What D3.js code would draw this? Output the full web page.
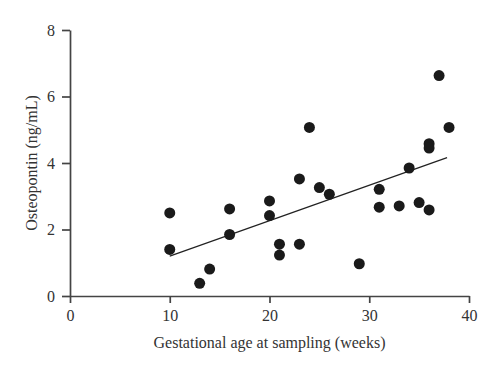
<!DOCTYPE html>
<html>
<head>
<meta charset="utf-8">
<script src="https://cdn.jsdelivr.net/npm/d3@7"></script>
<style>
  html, body { margin: 0; padding: 0; background: #fff; }
  svg { display: block; }
</style>
</head>
<body>
<svg id="chart" width="500" height="374"></svg>
<script>
// gestational age (weeks) and osteopontin (ng/mL)
const weeks = [10, 10, 13, 14, 16, 16, 20, 20, 21, 21, 23, 23, 24, 25, 26, 29, 31, 31, 33, 34, 35, 36, 36, 36, 37, 38];
const opn = [2.50, 1.40, 0.38, 0.81, 2.62, 1.85, 2.86, 2.42, 1.56, 1.23, 3.52, 1.56, 5.07, 3.26, 3.06, 0.97, 3.21, 2.67, 2.71, 3.85, 2.81, 4.58, 4.45, 2.59, 6.63, 5.07];

// regression line end points
const fitX = [10, 37.8];
const fitY = [1.2, 4.16];

const xTicks = [0, 10, 20, 30, 40];
const yTicks = [0, 2, 4, 6, 8];

const svg = d3.select('#chart');
const margin = { top: 30, right: 31, bottom: 78, left: 70 };
const width = +svg.attr('width') - margin.left - margin.right;
const height = +svg.attr('height') - margin.top - margin.bottom;
const g = svg.append('g').attr('transform', 'translate(' + margin.left + ',' + margin.top + ')');

const x = d3.scaleLinear().domain([0, 40]).range([0, width]);
const y = d3.scaleLinear().domain([0, 8]).range([height, 0]);

const font = '"Liberation Serif", "DejaVu Serif", serif';
const axisColor = '#444';
const textColor = '#333';

const xAxis = g.append('g')
  .attr('transform', 'translate(0,' + height + ')')
  .call(d3.axisBottom(x).tickValues(xTicks).tickSize(7).tickPadding(7).tickSizeOuter(0));

const yAxis = g.append('g')
  .call(d3.axisLeft(y).tickValues(yTicks).tickSize(8).tickPadding(7).tickSizeOuter(0));

[xAxis, yAxis].forEach(function(a) {
  a.select('.domain').attr('stroke', axisColor).attr('stroke-width', 1.7);
  a.selectAll('.tick line').attr('stroke', axisColor).attr('stroke-width', 1.7);
  a.selectAll('.tick text').attr('fill', textColor).attr('font-family', font).attr('font-size', 16);
});

// regression line
g.append('line')
  .attr('x1', x(fitX[0]))
  .attr('y1', y(fitY[0]))
  .attr('x2', x(fitX[1]))
  .attr('y2', y(fitY[1]))
  .attr('stroke', '#222')
  .attr('stroke-width', 1.2);

g.append('g')
  .selectAll('circle')
  .data(weeks.map(function(w, i) { return { w: w, v: opn[i] }; }))
  .enter()
  .append('circle')
  .attr('cx', function(d) { return x(d.w); })
  .attr('cy', function(d) { return y(d.v); })
  .attr('r', 5.5)
  .attr('fill', '#1a1a1a');

svg.append('text')
  .attr('x', margin.left + x(20))
  .attr('y', 348)
  .attr('text-anchor', 'middle')
  .attr('font-family', font)
  .attr('font-size', 16)
  .attr('fill', textColor)
  .text('Gestational age at sampling (weeks)');

svg.append('text')
  .attr('transform', 'translate(37,' + (margin.top + height / 2) + ') rotate(-90)')
  .attr('text-anchor', 'middle')
  .attr('font-family', font)
  .attr('font-size', 16)
  .attr('fill', textColor)
  .text('Osteopontin (ng/mL)');
</script>
</body>
</html>
